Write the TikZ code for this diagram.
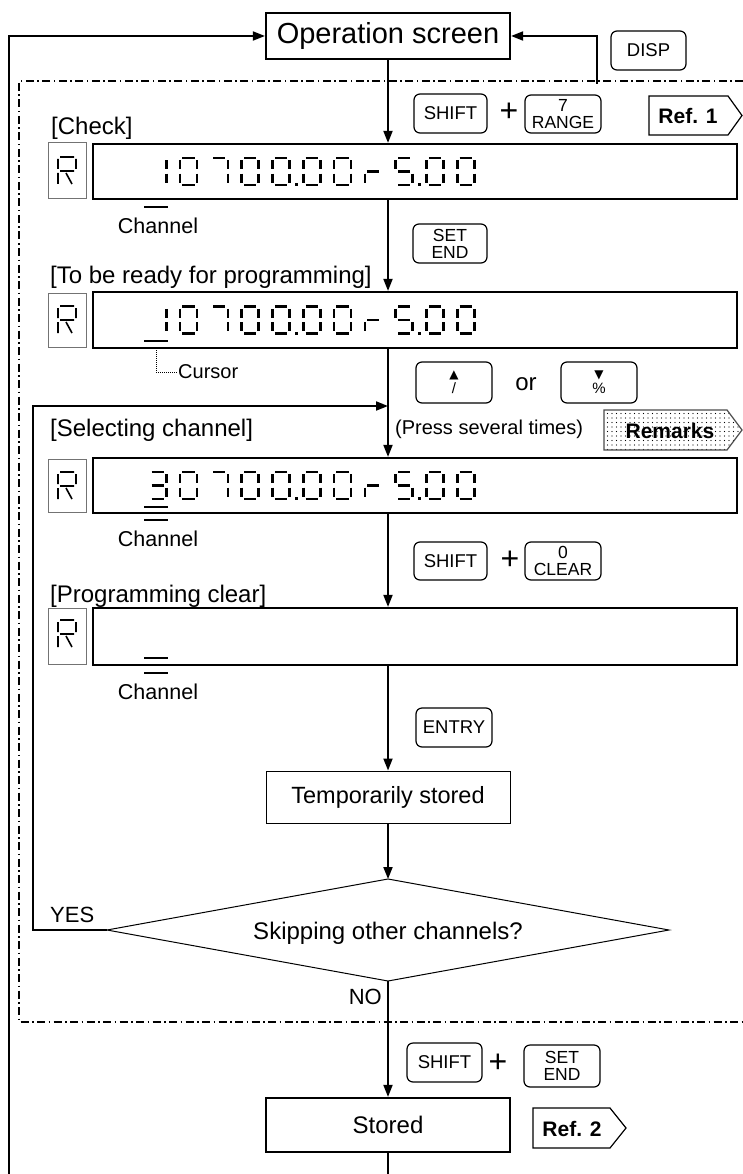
\documentclass[tikz,border=0pt]{standalone}
\usepackage{fontspec}
\setmainfont{Liberation Sans}
\newfontfamily\dejavu{DejaVu Sans}
\usetikzlibrary{arrows.meta,patterns.meta}
\newcommand\fsz[1]{\fontsize{#1}{#1}\selectfont}
% seven segment pieces (cell origin #1,#2 ; 17 x 27)
\newcommand\SegA[2]{\draw[seg] (#1+2.4,#2) -- (#1+14.6,#2);}
\newcommand\SegB[2]{\draw[seg] (#1+17,#2+2.4) -- (#1+17,#2+11.3);}
\newcommand\SegC[2]{\draw[seg] (#1+17,#2+15.7) -- (#1+17,#2+24.6);}
\newcommand\SegD[2]{\draw[seg] (#1+2.4,#2+27) -- (#1+14.6,#2+27);}
\newcommand\SegE[2]{\draw[seg] (#1,#2+15.7) -- (#1,#2+24.6);}
\newcommand\SegF[2]{\draw[seg] (#1,#2+2.4) -- (#1,#2+11.3);}
\newcommand\SegG[2]{\draw[seg] (#1+2.4,#2+13.5) -- (#1+14.6,#2+13.5);}
\newcommand\SDot[2]{\fill (#1+22.5,#2+25.3) rectangle (#1+25.3,#2+28.1);}
\newcommand\SZero[2]{\SegA{#1}{#2}\SegB{#1}{#2}\SegC{#1}{#2}\SegD{#1}{#2}\SegE{#1}{#2}\SegF{#1}{#2}}
\newcommand\SOne[2]{\SegB{#1}{#2}\SegC{#1}{#2}}
\newcommand\SSeven[2]{\SegA{#1}{#2}\SegB{#1}{#2}\SegC{#1}{#2}}
\newcommand\SFive[2]{\SegA{#1}{#2}\SegF{#1}{#2}\SegG{#1}{#2}\SegC{#1}{#2}\SegD{#1}{#2}}
\newcommand\SThree[2]{\SegA{#1}{#2}\SegB{#1}{#2}\SegG{#1}{#2}\SegC{#1}{#2}\SegD{#1}{#2}}
\newcommand\SLowR[2]{\SegE{#1}{#2}\SegG{#1}{#2}}
\newcommand\NumRow[2]{%
  #2{149.2}{#1}%
  \SZero{180}{#1}\SSeven{210.8}{#1}\SZero{241.6}{#1}\SZero{272.4}{#1}\SDot{272.4}{#1}%
  \SZero{303.2}{#1}\SZero{334}{#1}\SLowR{364.8}{#1}\SFive{395.6}{#1}\SDot{395.6}{#1}%
  \SZero{426.4}{#1}\SZero{457.2}{#1}}
\newcommand\RGlyph[2]{\draw[rseg] (#1+2,#2) -- (#1+16,#2) (#1,#2+2) -- (#1,#2+12)
  (#1+18,#2+2) -- (#1+18,#2+12) (#1+2,#2+14) -- (#1+16,#2+14)
  (#1,#2+16) -- (#1,#2+27) (#1+8,#2+16) -- (#1+14,#2+27);}
\tikzset{
  conn/.style={line width=1.8pt},
  arr/.style={conn,-{Triangle[length=12pt,width=9pt]}},
  thickbox/.style={draw,line width=2.2pt,inner sep=0pt},
  thinbox/.style={draw,line width=1pt,inner sep=0pt},
  keybox/.style={draw,rounded corners=6pt,line width=1.2pt,inner sep=0pt,align=center,font=\fsz{18.5}},
  twokey/.style={keybox,font=\fontsize{17.5}{17}\selectfont},
  rbox/.style={draw=black!55,line width=1pt,inner sep=0pt,minimum width=38pt},
  disp/.style={draw,line width=2.2pt,inner sep=0pt,minimum width=644pt},
  heading/.style={anchor=west,inner sep=0pt,font=\fsz{24}},
  small/.style={inner sep=0pt,font=\fsz{21.5}},
  seg/.style={line width=2.6pt},
  rseg/.style={line width=1.6pt},
  uline/.style={line width=2.6pt},
  framedd/.style={line width=1.3pt,dash pattern=on 8pt off 3.5pt on 1.5pt off 3.5pt},
  refpath/.style={line width=1.2pt},
  plus/.style={inner sep=0pt,font=\fsz{32}},
}
\begin{document}
\begin{tikzpicture}[x=1pt,y=-1pt]
\useasboundingbox (0,0) rectangle (743,1174);
% frame
\draw[framedd] (743,81) -- (19,81) -- (19,1022) -- (743,1022);
% operation screen
\node[thickbox,minimum width=244pt,minimum height=46pt,font=\fsz{29}] (op) at (388,36) {Operation screen};
\node[keybox,minimum width=75pt,minimum height=39pt] (kdisp) at (648.5,50.5) {DISP};
\coordinate (df) at (597,84);
\draw[arr] (df) |- (op.east);
\coordinate (lb) at (9,1174);
\draw[arr] (lb) |- (op.west);
% first keys
\node[keybox,minimum width=73pt,minimum height=39pt] (k1) at (450.5,113.5) {SHIFT};
\node[plus] (p1) at (509,112) {+};
\node[twokey,minimum width=76pt,minimum height=38pt] (k2) at (563,114) {7\\RANGE};
\draw[refpath] (649,96) -- (728,96) -- (742,115.5) -- (728,135) -- (649,135) -- cycle;
\node[inner sep=0pt,font=\fsz{21}\bfseries] (ref1) at (688,116) {Ref. 1};
% display 1
\node[heading] (h1) at (51,128) {[Check]};
\node[rbox,minimum height=56pt] (r1) at (67,171) {};
\RGlyph{58}{157}
\node[disp,minimum height=55pt] (d1) at (415,171.5) {};
\NumRow{158}{\SOne}
\draw[uline] (144,207) -- (168,207);
\node[small] (c1) at (158,226) {Channel};
\draw[arr] (op.south) -- (op.south |- d1.north);
\node[twokey,minimum width=74pt,minimum height=39pt] (k3) at (450,243.5) {SET\\END};
% display 2
\node[heading] (h2) at (50,277) {[To be ready for programming]};
\node[rbox,minimum height=54pt] (r2) at (67,320) {};
\RGlyph{58}{306}
\node[disp,minimum height=56pt] (d2) at (415,320) {};
\NumRow{306.5}{\SOne}
\draw[uline] (144,341) -- (168,341);
\node[small,anchor=west,font=\fsz{20}] (cur) at (178,372) {Cursor};
\coordinate (curtop) at (156,350);
\draw[line width=0.9pt,dash pattern=on 1pt off 1pt] (curtop) |- (cur.west);
\draw[arr] (op.south |- d1.south) -- (op.south |- d2.north);
% up / down keys
\node[keybox,minimum width=76pt,minimum height=41pt,font=\fontsize{15}{15}\selectfont] (kup) at (454,382.5) {{\dejavu\fontsize{12}{12}\selectfont ▲}\\/};
\node[inner sep=0pt,font=\fsz{24}] (or) at (526,384) {or};
\node[keybox,minimum width=76pt,minimum height=41pt,font=\fontsize{15}{15}\selectfont] (kdn) at (599,382.5) {{\dejavu\fontsize{12}{12}\selectfont ▼}\\\%};
\node[inner sep=0pt,anchor=west,font=\fsz{20}] (press) at (395,429) {(Press several times)};
\draw[refpath,draw=black!70,pattern={Dots[distance=4.5pt,radius=0.65pt]}] (604,410) -- (727,410) -- (742,430) -- (727,450) -- (604,450) -- cycle;
\node[inner sep=0pt,font=\fsz{21}\bfseries] (rem) at (670,431) {Remarks};
% display 3
\node[heading] (h3) at (50,430) {[Selecting channel]};
\node[rbox,minimum height=53pt] (r3) at (67,485.5) {};
\RGlyph{58}{472}
\node[disp,minimum height=55pt] (d3) at (415,485.5) {};
\NumRow{472}{\SThree}
\draw[uline] (144,507) -- (168,507);
\draw[uline] (144,520) -- (168,520);
\node[small] (c3) at (158,539) {Channel};
\draw[arr] (op.south |- d2.south) -- (op.south |- d3.north);
\node[keybox,minimum width=73pt,minimum height=38pt] (k4) at (450.5,561) {SHIFT};
\node[plus] (p2) at (510,560) {+};
\node[twokey,minimum width=76pt,minimum height=38pt] (k5) at (563,561) {0\\CLEAR};
% display 4
\node[heading] (h4) at (50,596) {[Programming clear]};
\node[rbox,minimum height=56pt] (r4) at (67,636) {};
\RGlyph{58}{620}
\node[disp,minimum height=57pt] (d4) at (415,636.5) {};
\draw[uline] (144,658) -- (168,658);
\draw[uline] (144,673) -- (168,673);
\node[small] (c4) at (158,692) {Channel};
\draw[arr] (op.south |- d3.south) -- (op.south |- d4.north);
\node[keybox,minimum width=76pt,minimum height=39pt] (k6) at (454,727.5) {ENTRY};
% temporarily stored
\node[thinbox,minimum width=244pt,minimum height=52pt,font=\fsz{23.5}] (tmp) at (388,797) {Temporarily stored};
\draw[arr] (op.south |- d4.south) -- (tmp.north);
% decision
\coordinate (dt) at (388,879);
\coordinate (dr) at (669,930);
\coordinate (db) at (388,981);
\coordinate (dl) at (107,930);
\draw[line width=1pt] (dt) -- (dr) -- (db) -- (dl) -- cycle;
\node[inner sep=0pt,font=\fsz{24}] (dq) at (388,933) {Skipping other channels?};
\draw[arr] (tmp.south) -- (dt);
\node[inner sep=0pt,anchor=west,font=\fsz{22}] (yes) at (50,915) {YES};
\node[inner sep=0pt,anchor=east,font=\fsz{22}] (no) at (382,997) {NO};
\coordinate (loopin) at (388,406);
\draw[conn,-{Triangle[length=12pt,width=9pt]}] (dl) -- (33,930) -- (33,406) -- (loopin);
% stored
\node[keybox,minimum width=75pt,minimum height=39pt] (k7) at (444.5,1062.5) {SHIFT};
\node[plus] (p3) at (498,1063) {+};
\node[twokey,minimum width=76pt,minimum height=42pt] (k8) at (562,1066) {SET\\END};
\node[thickbox,minimum width=244pt,minimum height=54pt,font=\fsz{24}] (st) at (388,1125) {Stored};
\draw[arr] (db) -- (st.north);
\coordinate (bot) at (388,1174);
\draw[conn] (st.south) -- (bot);
\draw[refpath] (533,1108) -- (610,1108) -- (626,1128) -- (610,1148) -- (533,1148) -- cycle;
\node[inner sep=0pt,font=\fsz{21}\bfseries] (ref2) at (572,1129) {Ref. 2};
\end{tikzpicture}
\end{document}
